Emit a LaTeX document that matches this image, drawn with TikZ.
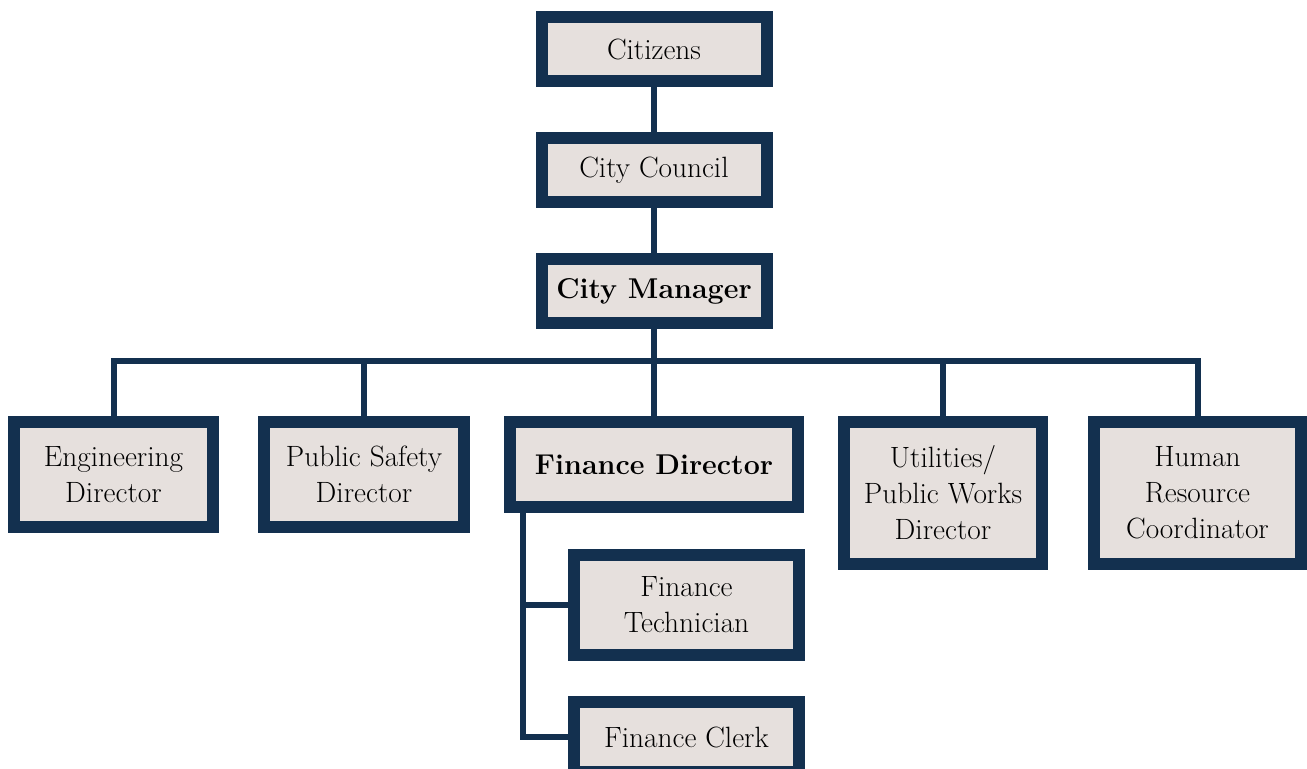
\documentclass[tikz,border=0pt]{standalone}
\usetikzlibrary{backgrounds,calc}
\definecolor{navy}{HTML}{13304F}
\definecolor{boxfill}{HTML}{E6E0DD}
\begin{document}
\begin{tikzpicture}[x=0.02cm,y=-0.02cm,
  box/.style={draw=navy, fill=boxfill, line width=0.24cm, align=center, inner sep=0pt,
     font=\fontsize{16.7}{20.5}\selectfont},
  boldbox/.style={box, font=\fontsize{16.3}{20.5}\selectfont\bfseries},
  conn/.style={draw=navy, line width=0.12cm}]
\useasboundingbox (0,0) rectangle (1307,768);
\clip (0,0) rectangle (1307,768);
\node[box, minimum width=225*0.02cm, minimum height=64*0.02cm] (cit) at (654,49) {Citizens};
\node[box, minimum width=225*0.02cm, minimum height=64*0.02cm] (cc) at (654,170) {City Council};
\node[boldbox, minimum width=225*0.02cm, minimum height=64*0.02cm] (cm) at (654,291) {City Manager};
\node[box, minimum width=199*0.02cm, minimum height=105*0.02cm] (eng) at (113.5,474.5) {Engineering\\Director};
\node[box, minimum width=200*0.02cm, minimum height=105*0.02cm] (ps) at (364,474.5) {Public Safety\\Director};
\node[boldbox, minimum width=288*0.02cm, minimum height=85*0.02cm] (fd) at (654,464.5) {Finance Director};
\node[box, minimum width=198*0.02cm, minimum height=142*0.02cm] (ut) at (943,493) {Utilities/\\Public Works\\Director};
\node[box, minimum width=207*0.02cm, minimum height=142*0.02cm] (hr) at (1197.5,493) {Human\\Resource\\Coordinator};
\node[box, minimum width=225*0.02cm, minimum height=100*0.02cm] (ft) at (686.5,605) {Finance\\Technician};
\node[box, minimum width=225*0.02cm, minimum height=70*0.02cm] (fc) at (686.5,737) {Finance Clerk};
\coordinate (bus) at (654,361);
\coordinate (fdl) at (523,513);
\begin{pgfonlayer}{background}
\draw[conn] (cit) -- (cc);
\draw[conn] (cc) -- (cm);
\draw[conn] (cm) -- (fd);
\draw[conn] (eng.north) |- (bus) -| (hr.north);
\draw[conn] (ps.north) -- (ps.north |- bus);
\draw[conn] (ut.north) -- (ut.north |- bus);
\draw[conn] (fdl) |- (ft.west);
\draw[conn] (fdl) |- (fc.west);
\end{pgfonlayer}
\end{tikzpicture}
\end{document}
